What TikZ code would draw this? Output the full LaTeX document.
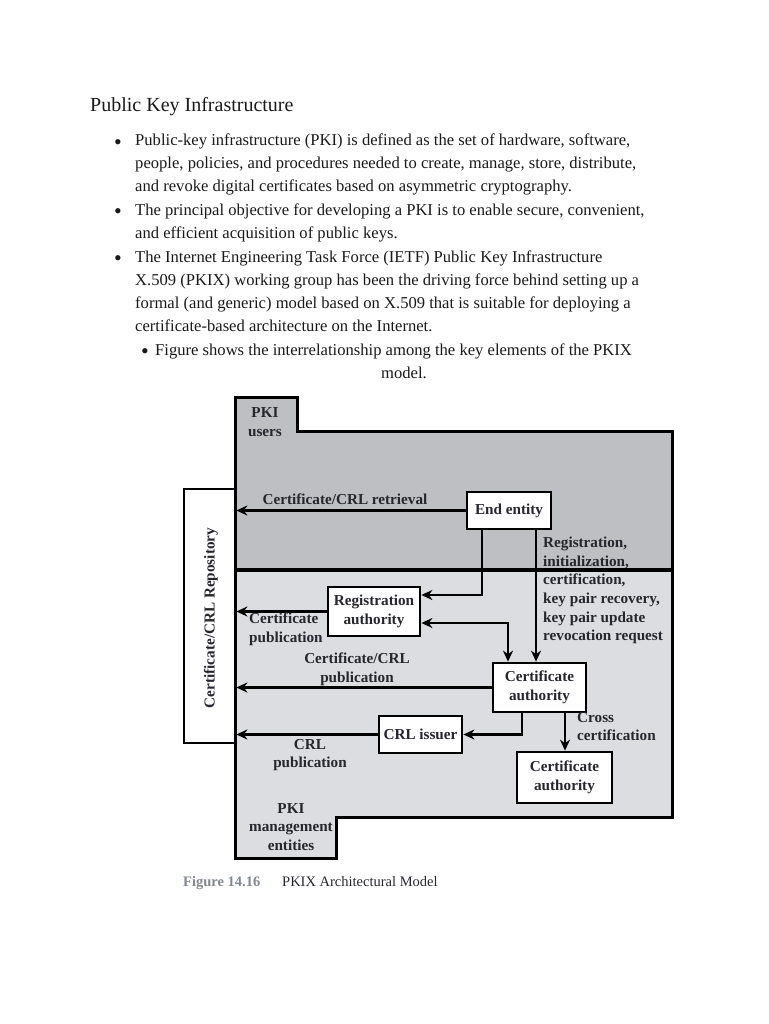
\documentclass[tikz,border=0pt]{standalone}
\usepackage{fontspec}
\setmainfont{Liberation Serif}
\usetikzlibrary{arrows.meta}
\definecolor{darkreg}{RGB}{190,191,194}
\definecolor{lightreg}{RGB}{220,221,224}
\definecolor{ink}{RGB}{38,38,46}
\definecolor{capgray}{RGB}{130,135,145}
\begin{document}
\begin{tikzpicture}[x=1pt,y=-1pt,
  body/.style={anchor=base west,inner sep=0pt,font=\fontsize{16.6}{20}\selectfont,text=black!90},
  bul/.style={anchor=base,inner sep=0pt,font=\fontsize{22}{24}\selectfont,text=black!90},
  lab/.style={inner sep=0pt,font=\fontsize{15.2}{18.6}\selectfont\bfseries,text=ink,align=center},
  labl/.style={lab,align=left},
  ent/.style={draw=black,line width=2.8pt,fill=white,inner sep=0pt,font=\fontsize{15.2}{18.6}\selectfont\bfseries,text=ink,align=center},
  reg/.style={draw=black,line width=3pt,line join=miter},
  arr/.style={draw=black,line width=2.3pt,-{Stealth[length=11pt,width=10pt]}},
  darr/.style={draw=black,line width=2.3pt,{Stealth[length=11pt,width=10pt]}-{Stealth[length=11pt,width=10pt]}}
]
\useasboundingbox (0,0) rectangle (768,1024);

% ---- text ----
\node[anchor=base west,inner sep=0pt,font=\fontsize{20}{24}\selectfont,text=black!90] (title) at (90,112) {Public Key Infrastructure};

\node[bul] (b1) at (118,149.5) {•};
\node[body] (l1) at (135,146) {Public-key infrastructure (PKI) is defined as the set of hardware, software,};
\node[body] (l2) at (135,169) {people, policies, and procedures needed to create, manage, store, distribute,};
\node[body] (l3) at (135,192) {and revoke digital certificates based on asymmetric cryptography.};
\node[bul] (b2) at (118,218.5) {•};
\node[body] (l4) at (135,215) {The principal objective for developing a PKI is to enable secure, convenient,};
\node[body] (l5) at (135,238) {and efficient acquisition of public keys.};
\node[bul] (b3) at (118,265.5) {•};
\node[body] (l6) at (135,262) {The Internet Engineering Task Force (IETF) Public Key Infrastructure};
\node[body] (l7) at (135,285) {X.509 (PKIX) working group has been the driving force behind setting up a};
\node[body] (l8) at (135,308) {formal (and generic) model based on X.509 that is suitable for deploying a};
\node[body] (l9) at (135,331) {certificate-based architecture on the Internet.};
\node[bul] (b4) at (145,358.5) {•};
\node[body] (l10) at (155,355) {Figure shows the interrelationship among the key elements of the PKIX};
\node[anchor=base,inner sep=0pt,font=\fontsize{16.6}{20}\selectfont,text=black!90] (l11) at (404,378) {model.};

% ---- regions ----
\fill[darkreg] (235,397) -- (297,397) -- (297,431) -- (672,431) -- (672,570) -- (235,570) -- cycle;
\fill[lightreg] (235,570) -- (672,570) -- (672,817) -- (336,817) -- (336,858) -- (235,858) -- cycle;
\draw[reg] (235,570) -- (235,397) -- (297,397) -- (297,431) -- (672,431) -- (672,570);
\draw[reg] (235,570) -- (235,858) -- (336,858) -- (336,817) -- (672,817) -- (672,570);
\draw[draw=black,line width=4pt] (235,570) -- (672,570);

\node[lab] (users) at (265,422) {PKI\\users};
\node[lab] (mgmt) at (291,827) {PKI\\management\\entities};

% ---- entities ----
\node[draw=black,line width=2.8pt,fill=white,minimum width=51pt,minimum height=254pt,inner sep=0pt] (repo) at (209.5,616) {};
\node[lab,rotate=90] (repotxt) at (211,618) {Certificate/CRL Repository};
\node[ent,minimum width=84pt,minimum height=37pt] (ee) at (509,510.5) {End entity};
\node[ent,minimum width=92pt,minimum height=49pt] (ra) at (374,611.5) {Registration\\authority};
\node[ent,minimum width=93pt,minimum height=49pt] (ca) at (539.5,687.5) {Certificate\\authority};
\node[ent,minimum width=83pt,minimum height=37pt] (crl) at (420.5,734.5) {CRL issuer};
\node[ent,minimum width=95pt,minimum height=51pt] (ca2) at (564.5,777.5) {Certificate\\authority};

% ---- connectors ----
\coordinate (c1) at (482,595);
\coordinate (c2) at (508,623);
\coordinate (c3) at (536,600);
\coordinate (c4) at (522,733);
\coordinate (c5) at (565,740);

\draw[arr] (ee.west) -- (ee.west -| repo.east);
\draw[arr] (ee.south -| c1) |- (c1 -| ra.east);
\draw[darr] (c2 -| ra.east) -| (ca.north -| c2);
\draw[arr] (ee.south -| c3) -- (ca.north -| c3);
\draw[arr] (ra.west) -- (ra.west -| repo.east);
\draw[arr] (ca.west) -- (ca.west -| repo.east);
\draw[arr] (crl.west) -- (crl.west -| repo.east);
\draw[arr] (ca.south -| c4) |- (crl.east);
\draw[arr] (ca.south -| c5) -- (ca2.north -| c5);

% ---- labels ----
\node[lab] (lretr) at (345,499) {Certificate/CRL retrieval};
\node[labl,anchor=north west] (lpub) at (249,613) {Certificate\\publication};
\node[lab] (lcrlpub) at (357,669) {Certificate/CRL\\publication};
\node[lab] (lcrl) at (310,755) {CRL\\publication};
\node[labl,anchor=north west] (lcross) at (577,712) {Cross\\certification};
\node[labl,anchor=north west] (lreg) at (543,537) {Registration,\\initialization,\\certification,\\key pair recovery,\\key pair update\\revocation request};

% ---- caption ----
\node[anchor=base west,inner sep=0pt,font=\fontsize{14.5}{16}\selectfont\bfseries,text=capgray] (capnum) at (183,886) {Figure 14.16};
\node[anchor=base west,inner sep=0pt,font=\fontsize{14.5}{16}\selectfont,text=ink] (captxt) at (282,886) {PKIX Architectural Model};
\end{tikzpicture}
\end{document}
